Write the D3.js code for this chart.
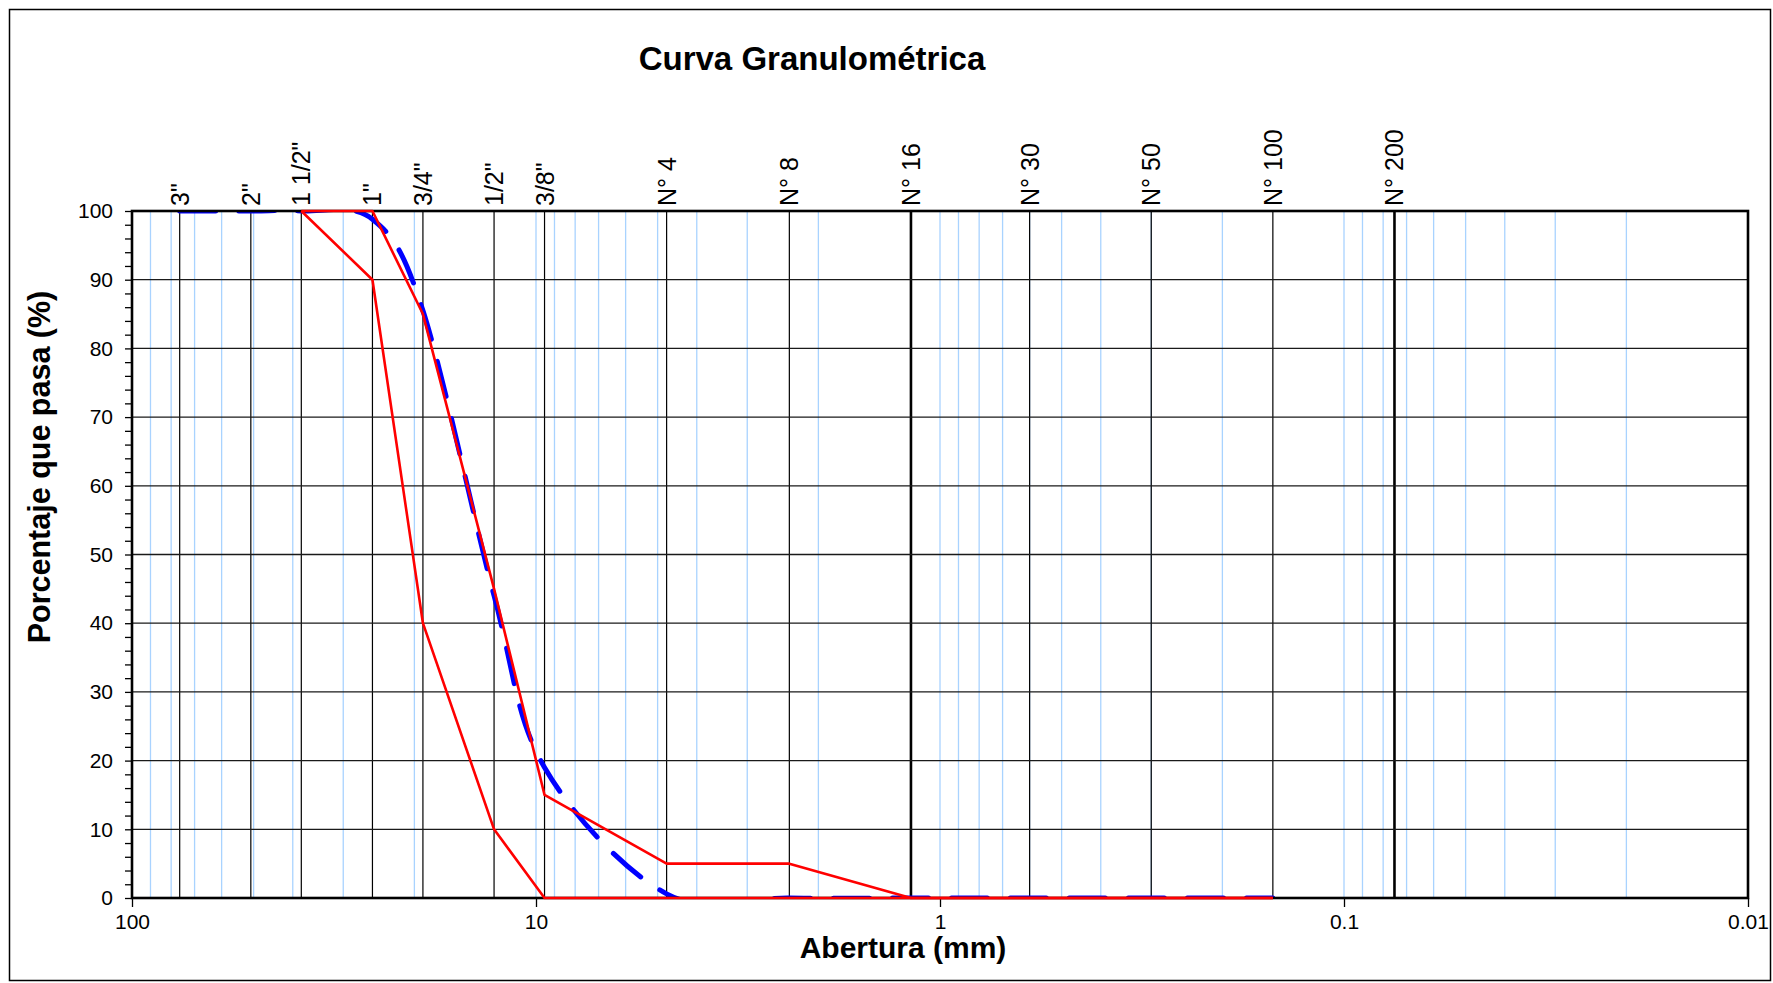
<!DOCTYPE html>
<html>
<head>
<meta charset="utf-8">
<script src="https://cdn.jsdelivr.net/npm/d3@7"></script>
<style>
  html, body { margin: 0; padding: 0; background: #fff; }
  svg text { font-family: "Liberation Sans", Arial, sans-serif; fill: #000; }
</style>
</head>
<body>
<svg id="chart" width="1773" height="983"></svg>
<script>
// Sieves (top labels) and their openings in mm
const SIEVE_LABELS = ['3"', '2"', '1 1/2"', '1"', '3/4"', '1/2"', '3/8"', "N° 4", "N° 8", "N° 16", "N° 30", "N° 50", "N° 100", "N° 200"];
const SIEVE_MM = [76.2, 50.8, 38.1, 25.4, 19.05, 12.7, 9.525, 4.75, 2.36, 1.18, 0.6, 0.3, 0.15, 0.075];

// % passing per sieve (null = no point)
const PASSING = [100, 100, 100, 98.8, 85.5, 44, 19, 0.6, 0, 0, 0, 0, 0, null];
const UPPER_LIMIT = [null, null, 100, 100, 85, 45, 15, 5, 5, 0, 0, 0, 0, null];
const LOWER_LIMIT = [null, null, 100, 90, 40, 10, 0, 0, 0, 0, 0, 0, 0, null];

const X_TICKS = [100, 10, 1, 0.1, 0.01];
const X_TICK_LABELS = ["100", "10", "1", "0.1", "0.01"];
const Y_TICKS = [0, 10, 20, 30, 40, 50, 60, 70, 80, 90, 100];
const Y_MINOR_TICKS = [2, 4, 6, 8, 12, 14, 16, 18, 22, 24, 26, 28, 32, 34, 36, 38, 42, 44, 46, 48, 52, 54, 56, 58, 62, 64, 66, 68, 72, 74, 76, 78, 82, 84, 86, 88, 92, 94, 96, 98];
const THICK_SIEVES = ["N° 16", "N° 200"];

const svg = d3.select("#chart");
const W = 1773, H = 983;
const plot = { left: 132, right: 1748, top: 211, bottom: 898 };

const x = d3.scaleLog().domain([100, 0.01]).range([plot.left, plot.right]);
const y = d3.scaleLinear().domain([0, 100]).range([plot.bottom, plot.top]);

svg.append("rect").attr("width", W).attr("height", H).attr("fill", "#fff");

// Outer chart border
svg.append("rect")
  .attr("x", 9.5).attr("y", 9.5)
  .attr("width", 1761).attr("height", 971)
  .attr("fill", "none").attr("stroke", "#000").attr("stroke-width", 1.5);

// Title
svg.append("text")
  .attr("x", 812).attr("y", 70)
  .attr("text-anchor", "middle")
  .attr("font-size", 33).attr("font-weight", "bold")
  .text("Curva Granulométrica");

svg.append("defs").append("clipPath").attr("id", "plot-clip")
  .append("rect")
  .attr("x", plot.left).attr("y", plot.top)
  .attr("width", plot.right - plot.left).attr("height", plot.bottom - plot.top);

// Light blue log grid (1..9 per decade)
svg.append("g")
  .selectAll("line")
  .data(x.ticks())
  .join("line")
  .attr("x1", (d) => x(d)).attr("x2", (d) => x(d))
  .attr("y1", plot.top).attr("y2", plot.bottom)
  .attr("stroke", "#a9d3ff").attr("stroke-width", 1.3);

// Sieve lines
const sieves = SIEVE_MM.map((mm, i) => ({ mm, label: SIEVE_LABELS[i] }));
svg.append("g")
  .selectAll("line")
  .data(sieves)
  .join("line")
  .attr("x1", (d) => x(d.mm)).attr("x2", (d) => x(d.mm))
  .attr("y1", plot.top).attr("y2", plot.bottom)
  .attr("stroke", "#000")
  .attr("stroke-width", (d) => (THICK_SIEVES.includes(d.label) ? 2.6 : 1.2));

// Sieve labels on top
svg.append("g")
  .selectAll("text")
  .data(sieves)
  .join("text")
  .attr("transform", (d) => `translate(${x(d.mm)},${plot.top - 5}) rotate(-90)`)
  .attr("dy", "0.36em")
  .attr("font-size", 25)
  .text((d) => d.label);

// Horizontal grid
svg.append("g")
  .selectAll("line")
  .data(Y_TICKS.filter((v) => v > 0 && v < 100))
  .join("line")
  .attr("x1", plot.left).attr("x2", plot.right)
  .attr("y1", (d) => y(d)).attr("y2", (d) => y(d))
  .attr("stroke", "#1a1a1a").attr("stroke-width", 1.3);

// Data series (smoothed, dashed blue), under the frame
const pts = (arr) => SIEVE_MM.map((mm, i) => ({ mm, v: arr[i] }));
const smooth = d3.line()
  .defined((d) => d.v != null)
  .x((d) => x(d.mm)).y((d) => y(d.v))
  .curve(d3.curveCatmullRom.alpha(0));

svg.append("path")
  .datum(pts(PASSING))
  .attr("clip-path", "url(#plot-clip)")
  .attr("d", smooth)
  .attr("fill", "none")
  .attr("stroke", "#0000ff")
  .attr("stroke-width", 5)
  .attr("stroke-linecap", "round")
  .attr("stroke-dasharray", "36,23");

// Frame
svg.append("rect")
  .attr("x", plot.left).attr("y", plot.top)
  .attr("width", plot.right - plot.left).attr("height", plot.bottom - plot.top)
  .attr("fill", "none").attr("stroke", "#000").attr("stroke-width", 2.6);

// Y axis
const yAxis = svg.append("g")
  .attr("transform", `translate(${plot.left},0)`)
  .call(d3.axisLeft(y).tickValues(Y_TICKS).tickSize(7).tickPadding(12));
const yMinor = svg.append("g")
  .attr("transform", `translate(${plot.left},0)`)
  .call(d3.axisLeft(y).tickValues(Y_MINOR_TICKS).tickSize(7).tickFormat(""));
[yAxis, yMinor].forEach((g) => {
  g.select(".domain").remove();
  g.selectAll("line").attr("stroke", "#000").attr("stroke-width", 1.3);
});
yAxis.selectAll("text").attr("font-size", 21).attr("font-family", null);

// X axis
const xAxis = svg.append("g")
  .attr("transform", `translate(0,${plot.bottom})`)
  .call(d3.axisBottom(x).tickValues(X_TICKS).tickSize(9).tickPadding(7)
    .tickFormat((d, i) => X_TICK_LABELS[i]));
xAxis.select(".domain").remove();
xAxis.selectAll("line").attr("stroke", "#000").attr("stroke-width", 1.3);
xAxis.selectAll("text").attr("font-size", 21).attr("font-family", null);

// Limit lines (red)
const straight = d3.line()
  .defined((d) => d.v != null)
  .x((d) => x(d.mm)).y((d) => y(d.v));

[UPPER_LIMIT, LOWER_LIMIT].forEach((arr) => {
  svg.append("path")
    .datum(pts(arr))
    .attr("d", straight)
    .attr("fill", "none")
    .attr("stroke", "#ff0000")
    .attr("stroke-width", 2.6)
    .attr("stroke-linejoin", "round");
});

// Axis titles
svg.append("text")
  .attr("x", 903).attr("y", 958)
  .attr("text-anchor", "middle")
  .attr("font-size", 30).attr("font-weight", "bold")
  .text("Abertura (mm)");

svg.append("text")
  .attr("transform", "translate(50,467) rotate(-90)")
  .attr("text-anchor", "middle")
  .attr("font-size", 30.5).attr("font-weight", "bold")
  .text("Porcentaje que pasa (%)");
</script>
</body>
</html>
